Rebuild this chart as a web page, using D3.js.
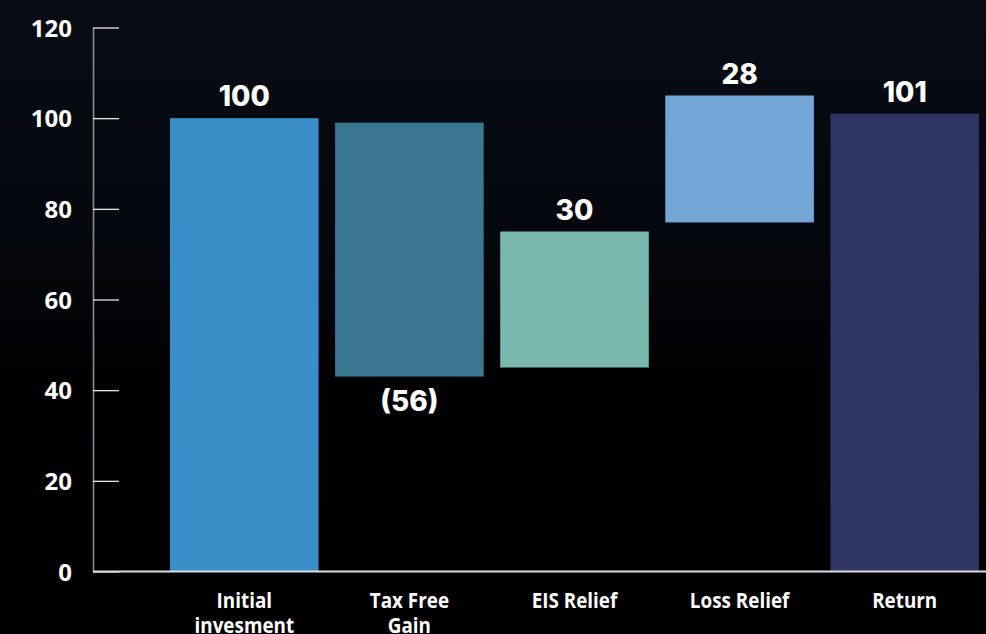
<!DOCTYPE html>
<html>
<head>
<meta charset="utf-8">
<script src="https://cdn.jsdelivr.net/npm/d3@7/dist/d3.min.js"></script>
<style>
  html, body { margin: 0; padding: 0; background: #000; }
  svg { display: block; }
</style>
</head>
<body>
<svg id="chart" width="986" height="634"></svg>
<script>
// Waterfall steps: label lines, where each bar starts, and its change
const categories = [["Initial", "invesment"], ["Tax Free", "Gain"], ["EIS Relief"], ["Loss Relief"], ["Return"]];
const starts = [0, 99, 45, 77, 0];
const changes = [100, -56, 30, 28, 101];
const valueLabels = ["100", "(56)", "30", "28", "101"];
const barColors = ["#3b8fc9", "#3a7892", "#79b8ae", "#74a7d6", "#2f3562"];
const yTicks = [0, 20, 40, 60, 80, 100, 120];

const W = 986, H = 634;
const svg = d3.select("#chart");

// dark backdrop fading to black
const defs = svg.append("defs");
const grad = defs.append("linearGradient").attr("id", "bg").attr("x1", 0).attr("y1", 0).attr("x2", 0).attr("y2", 1);
grad.append("stop").attr("offset", "0%").attr("stop-color", "#080c15");
grad.append("stop").attr("offset", "35%").attr("stop-color", "#05080e");
grad.append("stop").attr("offset", "60%").attr("stop-color", "#010103");
grad.append("stop").attr("offset", "100%").attr("stop-color", "#000000");
svg.append("rect").attr("width", W).attr("height", H).attr("fill", "url(#bg)");

const x = d3.scaleBand()
  .domain(d3.range(categories.length))
  .range([170, 979])
  .paddingInner(0.1)
  .paddingOuter(0);

const y = d3.scaleLinear().domain([0, 120]).range([571.5, 27.5]);

const rows = categories.map((c, i) => ({
  i, lines: c, start: starts[i], end: starts[i] + changes[i],
  change: changes[i], label: valueLabels[i], color: barColors[i]
}));

// bars
svg.append("g").selectAll("rect").data(rows).join("rect")
  .attr("x", d => x(d.i))
  .attr("width", x.bandwidth())
  .attr("y", d => y(Math.max(d.start, d.end)))
  .attr("height", d => Math.abs(y(d.start) - y(d.end)))
  .attr("fill", d => d.color);

// value labels: above rising bars, below falling ones
svg.append("g").selectAll("text").data(rows).join("text")
  .attr("x", d => x(d.i) + x.bandwidth() / 2)
  .attr("y", d => d.change >= 0 ? y(d.end) - 12 : y(d.end) + 34)
  .attr("text-anchor", "middle")
  .attr("fill", "#ffffff")
  .style("font-family", "Inter, 'Open Sans', sans-serif")
  .style("font-weight", 800)
  .style("font-size", "28px")
  .text(d => d.label);

// y axis with ticks pointing into the plot
const yAxis = d3.axisLeft(y).tickValues(yTicks).tickSizeInner(-26).tickSizeOuter(0).tickPadding(21);
const gy = svg.append("g").attr("transform", "translate(93,0)").call(yAxis);
gy.select(".domain").attr("stroke", "#8c8c8c").attr("stroke-width", 1.6);
gy.selectAll(".tick line").attr("stroke", "#e6e6e6").attr("stroke-width", 1.3);
gy.selectAll(".tick text")
  .attr("fill", "#ffffff")
  .style("font-family", "'Open Sans', sans-serif")
  .style("font-weight", 700)
  .style("font-size", "24px")
  .attr("dy", "0.36em");

// baseline
svg.append("line")
  .attr("x1", 93).attr("x2", W)
  .attr("y1", y(0)).attr("y2", y(0))
  .attr("stroke", "#dcdcdc").attr("stroke-width", 2);

// category labels in a slightly narrowed bold face
const cat = svg.append("g").selectAll("text").data(rows).join("text")
  .attr("transform", d => `translate(${x(d.i) + x.bandwidth() / 2},608) scale(0.92,1)`)
  .attr("text-anchor", "middle")
  .attr("fill", "#ffffff")
  .style("font-family", "'Open Sans', sans-serif")
  .style("font-weight", 700)
  .style("font-size", "20.5px");
cat.selectAll("tspan").data(d => d.lines.map((t, k) => ({ t, k }))).join("tspan")
  .attr("x", 0)
  .attr("dy", t => t.k === 0 ? 0 : 25)
  .text(t => t.t);
</script>
</body>
</html>
